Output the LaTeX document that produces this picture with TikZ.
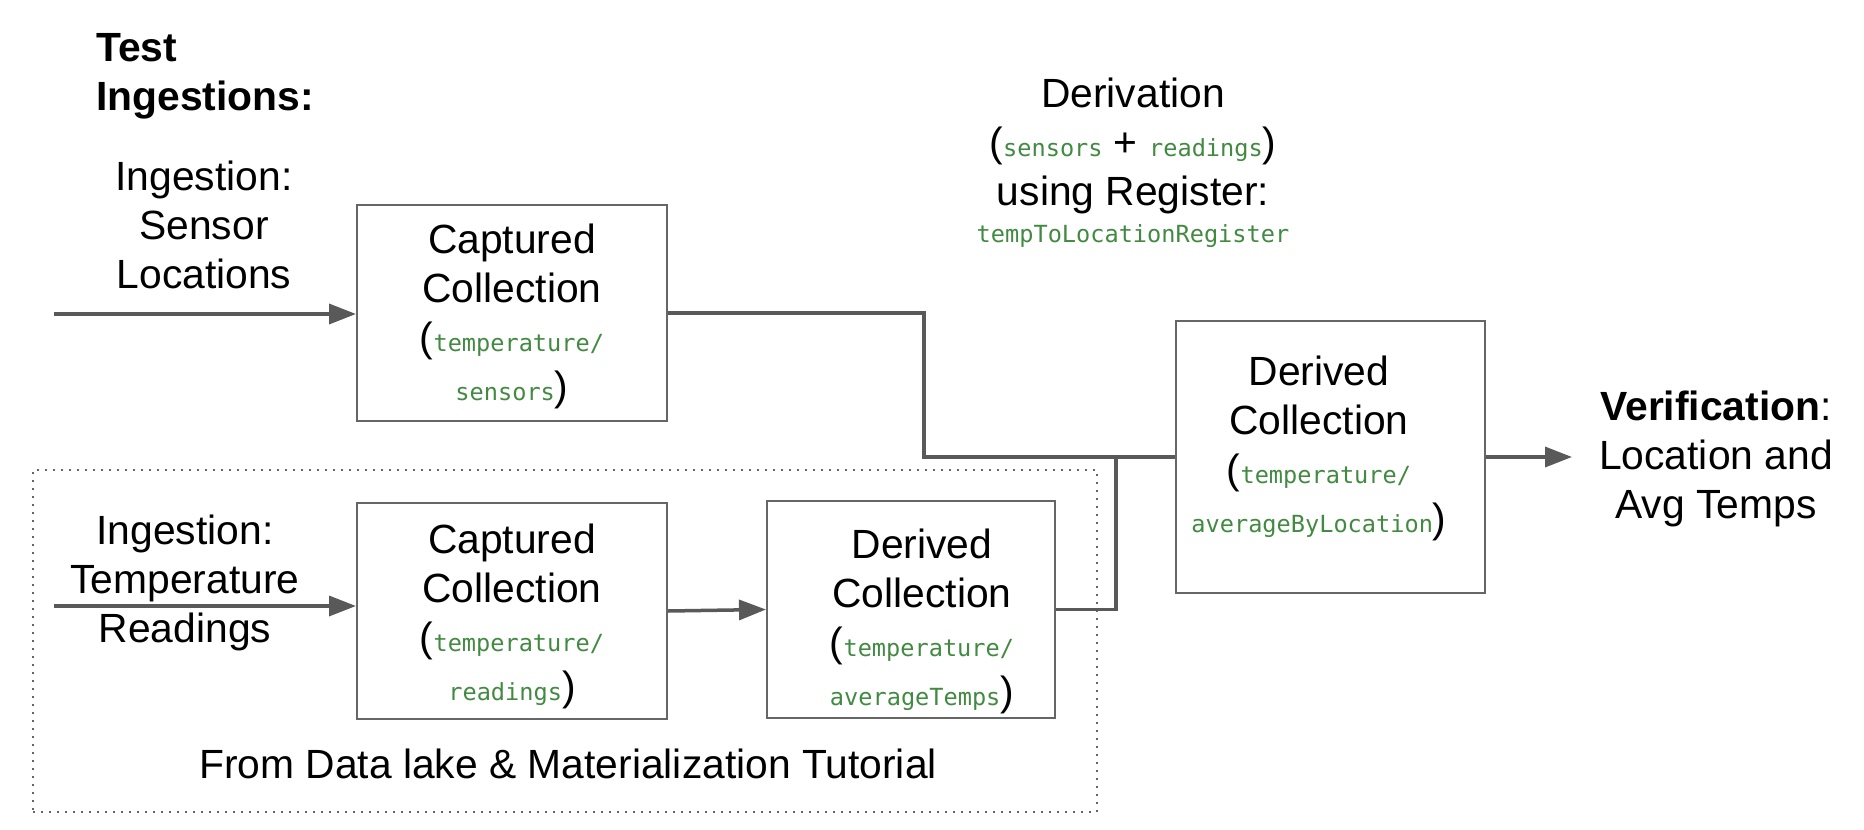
\documentclass[tikz,border=0pt]{standalone}
\usepackage{fontspec}
\setmainfont{Liberation Sans}
\newfontfamily\monof{DejaVu Sans Mono}
\usetikzlibrary{arrows.meta,calc}
\definecolor{conn}{HTML}{595959}
\definecolor{boxc}{HTML}{666666}
\definecolor{codeg}{HTML}{428A42}
\newcommand{\cd}[1]{{\fontsize{11.8pt}{14pt}\monof\color{codeg}#1}}
\begin{document}
\begin{tikzpicture}[x=0.5pt,y=-0.5pt,
  txt/.style={font=\fontsize{20.4pt}{24.5pt}\selectfont, align=center, inner sep=0pt},
  coll/.style={draw=boxc, line width=1pt, inner sep=0pt, rectangle},
  connl/.style={draw=conn, line width=1.75pt},
  arr/.style={connl, -{Triangle[length=13.5pt,width=10pt]}, fill=conn}]
\useasboundingbox (0,0) rectangle (1864,830);
% headings and texts
\node[txt, align=left, anchor=west] (title) at (96,76) {\textbf{Test}\\\textbf{Ingestions:}};
\node[txt] (ing1) at (204,225) {Ingestion:\\Sensor\\Locations};
\node[txt] (ing2) at (185,583) {Ingestion:\\Temperature\\Readings};
\node[txt] (deriv) at (1133,163) {Derivation\\(\cd{sensors} + \cd{readings})\\using Register:\\[-6pt]\cd{tempToLocationRegister}};
\node[txt] (verif) at (1716,459) {\textbf{Verification}:\\Location and\\Avg Temps};
% tutorial group
\node[draw=boxc, line width=1pt, dash pattern=on 1pt off 3pt, inner sep=0pt, minimum width=532pt, minimum height=171pt] (tut) at (565,641) {};
\node[txt] (tutl) at (568,764) {From Data lake \& Materialization Tutorial};
% boxes
\node[coll, minimum width=155pt, minimum height=108pt] (c1) at (512,313) {};
\node[coll, minimum width=155pt, minimum height=108pt] (c2) at (512,611) {};
\node[coll, minimum width=144pt, minimum height=108.5pt] (d1) at (911,609.5) {};
\node[coll, minimum width=154.5pt, minimum height=136pt] (d2) at (1330.5,457) {};
\node[txt] (c1t) at (512,316) {Captured\\Collection\\(\cd{temperature/}\\\cd{sensors})};
\node[txt] (c2t) at (512,616) {Captured\\Collection\\(\cd{temperature/}\\\cd{readings})};
\node[txt] (d1t) at (922,621) {Derived\\Collection\\(\cd{temperature/}\\\cd{averageTemps})};
\node[txt] (d2t) at (1319,448) {Derived\\Collection\\(\cd{temperature/}\\\cd{averageByLocation})};
% connectors
\coordinate (s1) at (54,314);
\coordinate (s2) at (54,606);
\coordinate (j1) at (924,457);
\coordinate (j2) at (1116,457);
\coordinate (vend) at (1572,457);
\draw[arr] (s1) -- (s1 -| c1.west);
\draw[arr] (s2) -- (s2 -| c2.west);
\draw[arr] (c2.east) -- (d1.west);
\draw[connl] (c1.east) -| (j1) -- (d2.west);
\draw[connl] (d1.east) -| (j2);
\draw[arr] (d2.east) -- (vend);
\end{tikzpicture}
\end{document}
